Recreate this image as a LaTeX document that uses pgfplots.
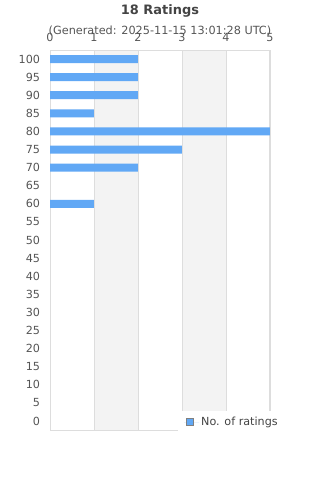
\documentclass[border=0pt]{standalone}
\usepackage{pgfplots}
\pgfplotsset{compat=1.18}
\usepackage{fontspec}
\setmainfont{DejaVu Sans}
\definecolor{barblue}{RGB}{97,168,245}
\definecolor{bandgray}{RGB}{243,243,243}
\definecolor{gridgray}{RGB}{221,221,221}
\definecolor{titlegray}{RGB}{68,68,68}
\definecolor{labelgray}{RGB}{85,85,85}
\begin{document}
\begin{tikzpicture}
\path (0bp,0bp) rectangle (320bp,-480bp);
\node[font=\fontsize{13}{15}\selectfont\bfseries, text=titlegray] at (160bp,-11bp) {18 Ratings};
\node[font=\fontsize{11.3}{13}\selectfont, text=labelgray] at (160bp,-30.5bp) {(Generated: 2025-11-15 13:01:28 UTC)};
\begin{axis}[
  set layers,
  at={(50bp,-430bp)}, anchor=south west,
  width=220bp, height=380bp, scale only axis,
  xmin=0, xmax=5, ymin=-2.5, ymax=102.5,
  xtick={0,1,2,3,4,5}, ytick={0,5,...,100},
  xticklabel pos=top,
  major tick length=0pt,
  xmajorgrids, grid style={gridgray, line width=0.8bp},
  axis line style={gridgray, line width=1bp},
  tick label style={font=\fontsize{11.2}{13}\selectfont, text=labelgray},
  /pgf/number format/assume math mode=true,
  yticklabel style={xshift=-6.5bp},
  xticklabel style={yshift=4.5bp},
  legend style={draw=none, fill=white, at={(axis description cs:0.582,0.05)}, anchor=north west,
    font=\fontsize{11.2}{13}\selectfont, text=titlegray, inner xsep=6bp, inner ysep=4bp},
  legend image code/.code={\path (0bp,0bp) -- (15bp,0bp); \draw[fill=barblue, draw=gray, line width=0.8bp] (2bp,-3.5bp) rectangle (9bp,3.5bp);},
]
\addplot[forget plot, draw=none, fill=bandgray, on layer=axis background] coordinates {(1,-2.5) (2,-2.5) (2,102.5) (1,102.5)} -- cycle;
\addplot[forget plot, draw=none, fill=bandgray, on layer=axis background] coordinates {(3,-2.5) (4,-2.5) (4,102.5) (3,102.5)} -- cycle;
\addplot[xbar, bar width=8bp, draw=none, fill=barblue] coordinates {(2,100) (2,95) (2,90) (1,85) (5,80) (3,75) (2,70) (1,60)};
\addlegendentry{No. of ratings}
\end{axis}
\end{tikzpicture}
\end{document}
